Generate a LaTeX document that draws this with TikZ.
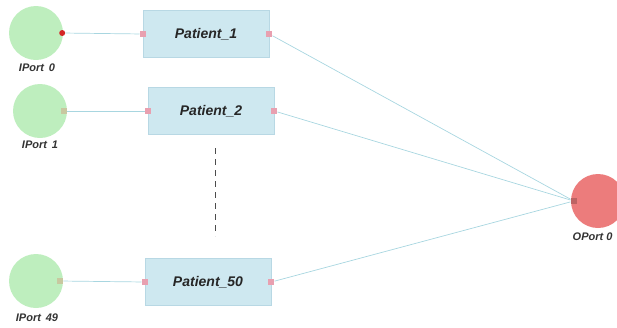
\documentclass[tikz,border=0pt]{standalone}
\usepackage{fontspec}
\setmainfont{Liberation Sans}
\definecolor{ingreen}{RGB}{190,238,190}
\definecolor{outred}{RGB}{236,124,124}
\definecolor{boxfill}{RGB}{206,232,240}
\definecolor{boxedge}{RGB}{184,216,228}
\definecolor{wire}{RGB}{168,214,224}
\definecolor{portpink}{RGB}{232,160,176}
\definecolor{portolive}{RGB}{200,200,160}
\begin{document}
\begin{tikzpicture}[x=1pt,y=-1pt,
  inport/.style={circle,fill=ingreen,minimum size=54pt,inner sep=0pt},
  outport/.style={circle,fill=outred,minimum size=54pt,inner sep=0pt},
  patient/.style={rectangle,fill=boxfill,draw=boxedge,line width=0.6pt,minimum width=126pt,minimum height=47pt,font=\fontsize{14}{16}\selectfont\bfseries\itshape,text=black!85},
  plabel/.style={font=\fontsize{11}{13}\selectfont\bfseries\itshape,text=black!80},
  pin/.style={rectangle,fill=portpink,minimum size=6pt,inner sep=0pt},
  pinol/.style={rectangle,fill=portolive,minimum size=6pt,inner sep=0pt},
  pinred/.style={circle,fill=red!80!black!85,minimum size=6pt,inner sep=0pt},
  wireline/.style={draw=wire,line width=0.7pt}]
\useasboundingbox (0,0) rectangle (617,327);
\clip (0,0) rectangle (617,327);
% ports
\node[inport] (i0) at (36,33) {};
\node[inport] (i1) at (40,111) {};
\node[inport] (i49) at (36,281) {};
\node[outport] (o0) at (598,201) {};
\node[plabel] (li0) at (37,68) {IPort\, 0};
\node[plabel] (li1) at (40,145) {IPort\, 1};
\node[plabel] (li49) at (37,318) {IPort\, 49};
\node[plabel,anchor=east] (lo0) at (616,237) {OPort 0};
% patients
\node[patient] (p1) at (206,34) {Patient\_1};
\node[patient] (p2) at (211,111) {Patient\_2};
\node[patient] (p50) at (208,282) {Patient\_50};
% port pins
\node[pinred] (i0o) at ([xshift=-1pt]i0.east) {};
\node[pinol] (i1o) at ([xshift=-3pt]i1.east) {};
\node[pinol] (i49o) at ([xshift=-3pt]i49.east) {};
\node[pin] (p1i) at (p1.west) {};
\node[pin] (p1o) at (p1.east) {};
\node[pin] (p2i) at (p2.west) {};
\node[pin] (p2o) at (p2.east) {};
\node[pin] (p50i) at (p50.west) {};
\node[pin] (p50o) at (p50.east) {};
\node[rectangle,fill=outred!80!black,minimum size=6pt,inner sep=0pt] (o0i) at ([xshift=3pt]o0.west) {};
% wires
\draw[wireline] (i0o) -- (p1i);
\draw[wireline] (i1o) -- (p2i);
\draw[wireline] (i49o) -- (p50i);
\draw[wireline] (p1o) -- (o0i);
\draw[wireline] (p2o) -- (o0i);
\draw[wireline] (p50o) -- (o0i);
% dashed ellipsis
\coordinate (d1) at (215,148);
\coordinate (d2) at (215,236);
\draw[black!70,line width=1pt,dash pattern=on 6pt off 5pt] (d1) -- (d2);
\end{tikzpicture}
\end{document}
